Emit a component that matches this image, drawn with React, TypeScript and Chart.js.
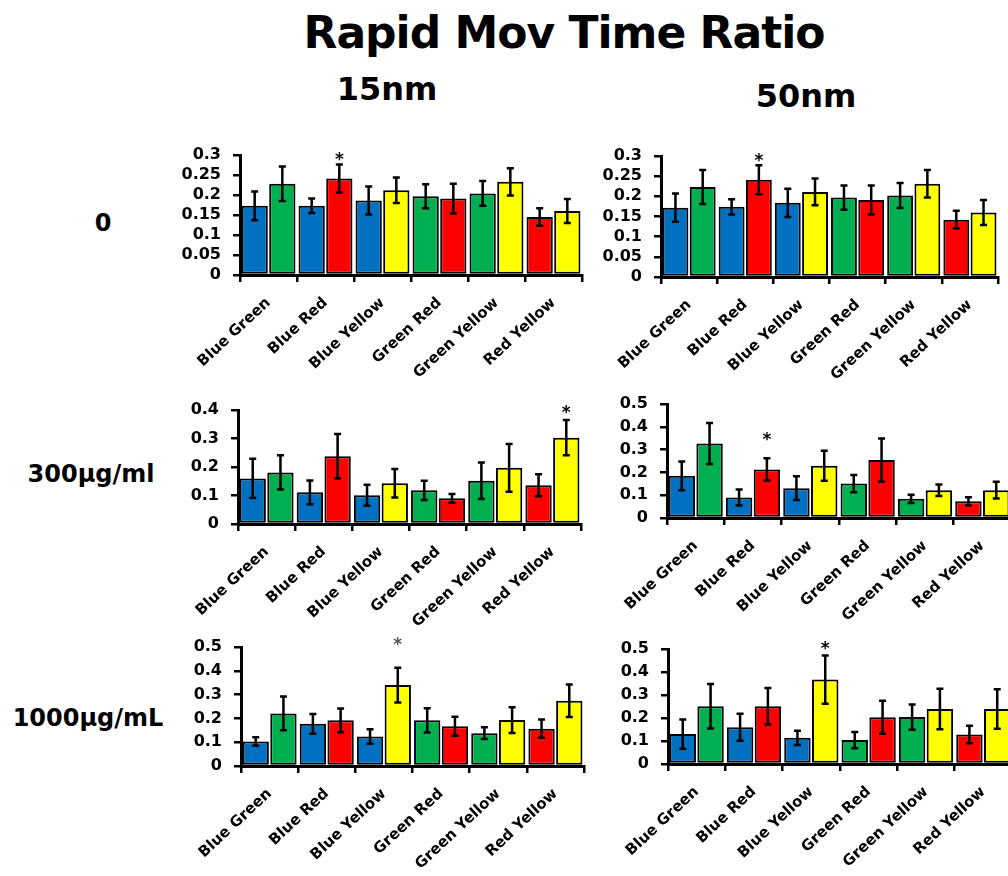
import React, { useEffect, useRef } from 'react';
import { Chart, registerables } from 'chart.js';

Chart.register(...registerables);

const FONT = "'DejaVu Sans', sans-serif";

// Colour pairs shown on the x axis
const pairs = ['Blue Green', 'Blue Red', 'Blue Yellow', 'Green Red', 'Green Yellow', 'Red Yellow'];

// 15nm, 0
const nm15c0First = [0.173, 0.173, 0.186, 0.197, 0.204, 0.145];
const nm15c0FirstErr = [0.036, 0.018, 0.035, 0.030, 0.031, 0.022];
const nm15c0Second = [0.228, 0.241, 0.212, 0.191, 0.233, 0.160];
const nm15c0SecondErr = [0.043, 0.035, 0.032, 0.037, 0.034, 0.030];

// 50nm, 0
const nm50c0First = [0.172, 0.174, 0.184, 0.197, 0.202, 0.142];
const nm50c0FirstErr = [0.035, 0.019, 0.035, 0.030, 0.031, 0.022];
const nm50c0Second = [0.223, 0.241, 0.211, 0.191, 0.231, 0.160];
const nm50c0SecondErr = [0.042, 0.036, 0.033, 0.036, 0.034, 0.031];

// 15nm, 300µg/ml
const nm15c300First = [0.160, 0.111, 0.101, 0.118, 0.152, 0.136];
const nm15c300FirstErr = [0.069, 0.042, 0.037, 0.034, 0.064, 0.039];
const nm15c300Second = [0.181, 0.238, 0.143, 0.090, 0.197, 0.303];
const nm15c300SecondErr = [0.060, 0.078, 0.050, 0.015, 0.084, 0.062];

// 50nm, 300µg/ml
const nm50c300First = [0.185, 0.090, 0.131, 0.151, 0.084, 0.073];
const nm50c300FirstErr = [0.063, 0.035, 0.052, 0.038, 0.018, 0.018];
const nm50c300Second = [0.327, 0.213, 0.229, 0.254, 0.122, 0.122];
const nm50c300SecondErr = [0.090, 0.049, 0.066, 0.095, 0.025, 0.037];

// 15nm, 1000µg/mL
const nm15c1000First = [0.103, 0.177, 0.124, 0.192, 0.138, 0.157];
const nm15c1000FirstErr = [0.018, 0.042, 0.030, 0.051, 0.025, 0.038];
const nm15c1000Second = [0.221, 0.192, 0.340, 0.167, 0.193, 0.274];
const nm15c1000SecondErr = [0.071, 0.050, 0.073, 0.040, 0.054, 0.068];

// 50nm, 1000µg/mL
const nm50c1000First = [0.130, 0.160, 0.114, 0.104, 0.204, 0.128];
const nm50c1000FirstErr = [0.064, 0.059, 0.031, 0.035, 0.055, 0.038];
const nm50c1000Second = [0.251, 0.251, 0.367, 0.203, 0.239, 0.239];
const nm50c1000SecondErr = [0.097, 0.079, 0.105, 0.072, 0.088, 0.086];

// Axis tops and tick steps per panel (row-major: 15nm, 50nm)
const yMaxes = [0.3, 0.3, 0.4, 0.5, 0.5, 0.5];
const ySteps = [0.05, 0.05, 0.1, 0.1, 0.1, 0.1];

// Significance marks: which pair's second bar, and the height of the asterisk
const starPair = [1, 1, 5, 1, 2, 2];
const starHeight = [0.30, 0.30, 0.407, 0.36, 0.528, 0.52];

const colourOf: Record<string, string> = {
  Blue: '#0070C0',
  Green: '#00B050',
  Red: '#FF0000',
  Yellow: '#FFFF00',
};
const firstColours = pairs.map((p) => colourOf[p.split(' ')[0]]);
const secondColours = pairs.map((p) => colourOf[p.split(' ')[1]]);

const AXIS_W = 80;
const AXIS_H = 125;
const PAD_T = 26;
const PAD_R = 4;

type Box = { left: number; top: number; right: number; bottom: number };
type PanelDef = {
  first: number[];
  firstErr: number[];
  second: number[];
  secondErr: number[];
  box: Box;
  starColour: string;
};

const panels: PanelDef[] = [
  { first: nm15c0First, firstErr: nm15c0FirstErr, second: nm15c0Second, secondErr: nm15c0SecondErr, box: { left: 240, top: 155, right: 582, bottom: 275 }, starColour: '#000' },
  { first: nm50c0First, firstErr: nm50c0FirstErr, second: nm50c0Second, secondErr: nm50c0SecondErr, box: { left: 661, top: 156, right: 998, bottom: 277 }, starColour: '#000' },
  { first: nm15c300First, firstErr: nm15c300FirstErr, second: nm15c300Second, secondErr: nm15c300SecondErr, box: { left: 238, top: 410, right: 581, bottom: 524 }, starColour: '#000' },
  { first: nm50c300First, firstErr: nm50c300FirstErr, second: nm50c300Second, secondErr: nm50c300SecondErr, box: { left: 667, top: 404, right: 1011, bottom: 518 }, starColour: '#000' },
  { first: nm15c1000First, firstErr: nm15c1000FirstErr, second: nm15c1000Second, secondErr: nm15c1000SecondErr, box: { left: 241, top: 647, right: 584, bottom: 766 }, starColour: '#555' },
  { first: nm50c1000First, firstErr: nm50c1000FirstErr, second: nm50c1000Second, secondErr: nm50c1000SecondErr, box: { left: 668, top: 649, right: 1012, bottom: 764 }, starColour: '#000' },
];

// Draws ±error whiskers with caps on top of each bar
const errorBars = {
  id: 'errorBars',
  afterDatasetsDraw(chart: any) {
    const { ctx } = chart;
    const yScale = chart.scales.y;
    chart.data.datasets.forEach((ds: any, i: number) => {
      const meta = chart.getDatasetMeta(i);
      meta.data.forEach((bar: any, j: number) => {
        const v = ds.data[j];
        const e = ds.errors[j];
        const x = bar.x;
        const yTop = yScale.getPixelForValue(v + e);
        const yBot = yScale.getPixelForValue(v - e);
        ctx.save();
        ctx.strokeStyle = '#000';
        ctx.lineWidth = 2.5;
        ctx.beginPath();
        ctx.moveTo(x, yTop);
        ctx.lineTo(x, yBot);
        ctx.moveTo(x - 3.5, yTop);
        ctx.lineTo(x + 3.5, yTop);
        ctx.moveTo(x - 3.5, yBot);
        ctx.lineTo(x + 3.5, yBot);
        ctx.stroke();
        ctx.restore();
      });
    });
  },
};

// Asterisk above the significant bar
const starMark = {
  id: 'starMark',
  afterDraw(chart: any, _args: any, opts: any) {
    const meta = chart.getDatasetMeta(1);
    const bar = meta.data[opts.index];
    if (!bar) return;
    const { ctx } = chart;
    const size = 17;
    const y = chart.scales.y.getPixelForValue(opts.height);
    ctx.save();
    ctx.fillStyle = opts.colour;
    ctx.font = `bold ${size}px ${FONT}`;
    ctx.textAlign = 'center';
    ctx.textBaseline = 'alphabetic';
    ctx.fillText('*', bar.x, y + size * 0.56);
    ctx.restore();
  },
};

function BarPanel({ idx }: { idx: number }) {
  const ref = useRef<HTMLCanvasElement>(null);
  const p = panels[idx];
  const { left, top, right, bottom } = p.box;
  const w = right - left + AXIS_W + PAD_R;
  const h = bottom - top + PAD_T + AXIS_H;

  useEffect(() => {
    if (!ref.current) return;
    const xFont = { family: FONT, weight: 'bold' as const, size: 15 };
    const yFont = { family: FONT, weight: 'bold' as const, size: 16 };
    const chart = new Chart(ref.current, {
      type: 'bar',
      data: {
        labels: pairs,
        datasets: [
          {
            data: p.first,
            errors: p.firstErr,
            backgroundColor: firstColours,
            borderColor: '#000',
            borderWidth: 2,
            borderSkipped: false,
          } as any,
          {
            data: p.second,
            errors: p.secondErr,
            backgroundColor: secondColours,
            borderColor: '#000',
            borderWidth: 2,
            borderSkipped: false,
          } as any,
        ],
      },
      options: {
        animation: false,
        responsive: false,
        devicePixelRatio: 1,
        layout: { padding: { top: PAD_T, right: PAD_R, left: 0, bottom: 0 } },
        datasets: { bar: { categoryPercentage: 0.97, barPercentage: 0.95 } },
        plugins: {
          legend: { display: false },
          tooltip: { enabled: false },
          starMark: { index: starPair[idx], height: starHeight[idx], colour: p.starColour },
        } as any,
        scales: {
          x: {
            offset: true,
            grid: {
              display: true,
              drawOnChartArea: false,
              drawTicks: true,
              tickLength: 7,
              color: '#000',
              lineWidth: 2.5,
              offset: true,
            },
            border: { display: true, color: '#000', width: 3 },
            ticks: {
              color: '#000',
              font: xFont,
              minRotation: 43,
              maxRotation: 43,
              autoSkip: false,
              padding: 12,
            },
            afterFit: (s: any) => {
              s.height = AXIS_H;
            },
          },
          y: {
            min: 0,
            max: yMaxes[idx],
            grid: {
              display: true,
              drawOnChartArea: false,
              drawTicks: true,
              tickLength: 7,
              color: '#000',
              lineWidth: 2.5,
            },
            border: { display: true, color: '#000', width: 3 },
            ticks: {
              stepSize: ySteps[idx],
              autoSkip: false,
              color: '#000',
              font: yFont,
              padding: 12,
              callback: (v: any) => String(Number(Number(v).toFixed(2))),
            },
            afterFit: (s: any) => {
              s.width = AXIS_W;
            },
          },
        },
      },
      plugins: [errorBars, starMark],
    });
    return () => chart.destroy();
  }, [idx]);

  return (
    <canvas
      ref={ref}
      width={w}
      height={h}
      style={{ position: 'absolute', left: left - AXIS_W, top: top - PAD_T, width: w, height: h }}
    />
  );
}

type Caption = { text: string; cx: number; baseline: number; size: number; spacing?: number };

const captions: Caption[] = [
  { text: 'Rapid Mov Time Ratio', cx: 564, baseline: 48, size: 44, spacing: -1 },
  { text: '15nm', cx: 387, baseline: 100, size: 32 },
  { text: '50nm', cx: 806, baseline: 107, size: 32 },
  { text: '0', cx: 103, baseline: 231, size: 24 },
  { text: '300µg/ml', cx: 91, baseline: 482, size: 24 },
  { text: '1000µg/mL', cx: 88, baseline: 726, size: 24 },
];

export default function App() {
  return (
    <div
      style={{
        position: 'absolute',
        left: 0,
        top: 0,
        width: 1008,
        height: 876,
        overflow: 'hidden',
        background: '#fff',
      }}
    >
      {captions.map((c) => (
        <div
          key={c.text}
          style={{
            position: 'absolute',
            left: c.cx,
            top: c.baseline - 0.846 * c.size,
            transform: 'translateX(-50%)',
            fontFamily: FONT,
            fontWeight: 'bold',
            fontSize: c.size,
            lineHeight: `${c.size}px`,
            letterSpacing: c.spacing ?? 0,
            whiteSpace: 'nowrap',
            color: '#000',
          }}
        >
          {c.text}
        </div>
      ))}
      {panels.map((_, i) => (
        <BarPanel key={i} idx={i} />
      ))}
    </div>
  );
}
